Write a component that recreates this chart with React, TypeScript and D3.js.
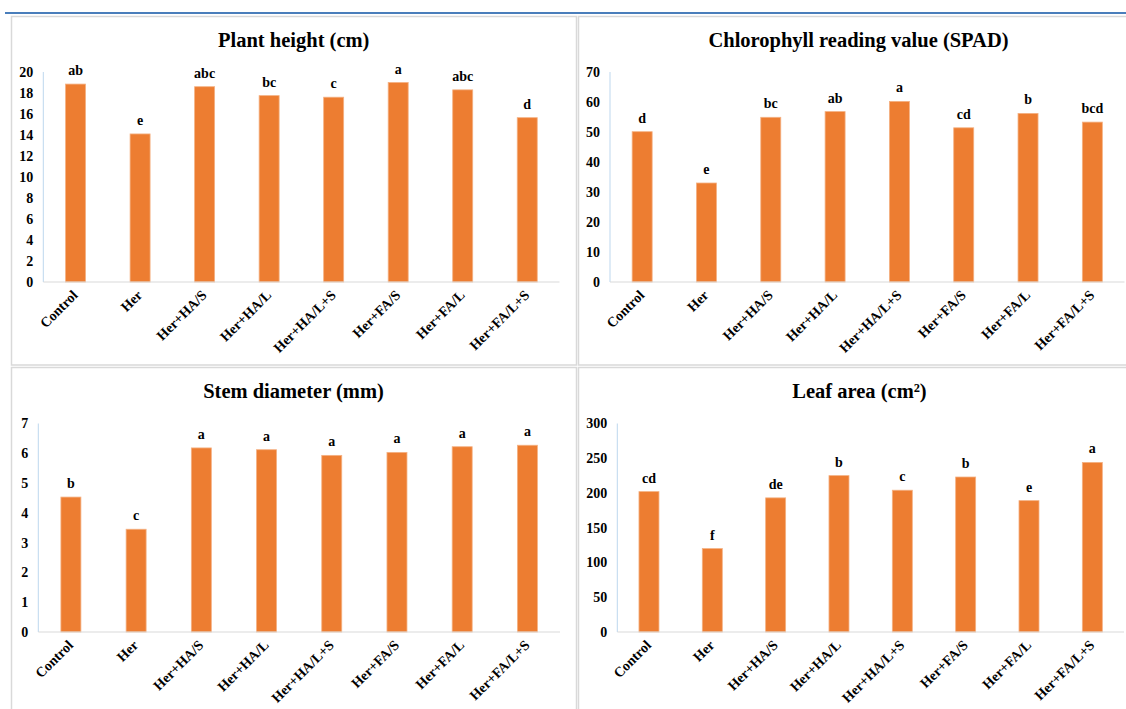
import React from "react";
import * as d3 from "d3";

const categories = ["Control", "Her", "Her+HA/S", "Her+HA/L", "Her+HA/L+S", "Her+FA/S", "Her+FA/L", "Her+FA/L+S"];

const plantHeight = [18.85, 14.1, 18.6, 17.75, 17.6, 19.0, 18.3, 15.65];
const plantHeightLetters = ["ab", "e", "abc", "bc", "c", "a", "abc", "d"];
const plantHeightTicks = [0, 2, 4, 6, 8, 10, 12, 14, 16, 18, 20];

const chlorophyll = [50.1, 33.0, 54.9, 56.8, 60.2, 51.4, 56.2, 53.3];
const chlorophyllLetters = ["d", "e", "bc", "ab", "a", "cd", "b", "bcd"];
const chlorophyllTicks = [0, 10, 20, 30, 40, 50, 60, 70];

const stemDiameter = [4.53, 3.45, 6.18, 6.12, 5.93, 6.03, 6.22, 6.27];
const stemDiameterLetters = ["b", "c", "a", "a", "a", "a", "a", "a"];
const stemDiameterTicks = [0, 1, 2, 3, 4, 5, 6, 7];

const leafArea = [202, 120, 193, 225, 204, 223, 189, 244];
const leafAreaLetters = ["cd", "f", "de", "b", "c", "b", "e", "a"];
const leafAreaTicks = [0, 50, 100, 150, 200, 250, 300];

const titles = ["Plant height (cm)", "Chlorophyll reading value (SPAD)", "Stem diameter (mm)", "Leaf area (cm\u00B2)"];

const panels = [
  { title: titles[0], values: plantHeight, letters: plantHeightLetters, ticks: plantHeightTicks, box: [11, 16, 576, 364.5], x0: 43.3, x1: 559.5, y0: 282, y1: 72, titleX: 293.7, titleY: 47 },
  { title: titles[1], values: chlorophyll, letters: chlorophyllLetters, ticks: chlorophyllTicks, box: [578, 16, 1140, 364.5], x0: 610, x1: 1124.5, y0: 282, y1: 72, titleX: 858.5, titleY: 47 },
  { title: titles[2], values: stemDiameter, letters: stemDiameterLetters, ticks: stemDiameterTicks, box: [11, 367, 576, 720], x0: 38.3, x1: 560, y0: 632, y1: 423.5, titleX: 293.5, titleY: 398 },
  { title: titles[3], values: leafArea, letters: leafAreaLetters, ticks: leafAreaTicks, box: [578, 367, 1140, 720], x0: 617.3, x1: 1124, y0: 632, y1: 423.5, titleX: 859.5, titleY: 398 },
];

const FONT = "'Liberation Serif', 'Times New Roman', serif";
const BAR = "#ED7D31";

function Panel({ p }: { p: any }) {
  const x = d3.scaleBand<string>().domain(categories).range([p.x0, p.x1]).paddingInner(0).paddingOuter(0);
  const maxT = p.ticks[p.ticks.length - 1];
  const y = d3.scaleLinear().domain([0, maxT]).range([p.y0, p.y1]);
  const bw = 20;
  const [bx0, by0, bx1, by1] = p.box;
  return (
    <g>
      <rect x={bx0 + 0.5} y={by0 + 0.5} width={bx1 - bx0} height={by1 - by0} fill="#fff" stroke="#D9D9D9" strokeWidth={1.5} />
      <text x={p.titleX} y={p.titleY} textAnchor="middle" fontFamily={FONT} fontWeight="bold" fontSize={20.5} fill="#000">
        {p.title}
      </text>
      {p.ticks.map((t: number) => (
        <text key={t} x={p.x0 - 10} y={y(t)} dy="0.35em" textAnchor="end" fontFamily={FONT} fontWeight="bold" fontSize={14} fill="#000">
          {t}
        </text>
      ))}
      <line x1={p.x0} x2={p.x0} y1={y(maxT)} y2={p.y0} stroke="#BDD7EE" strokeWidth={1} />
      {categories.map((c, i) => {
        const cx = (x(c) as number) + x.bandwidth() / 2;
        const v = p.values[i];
        return (
          <g key={c}>
            <rect x={cx - bw / 2} y={y(v)} width={bw} height={p.y0 - y(v)} fill={BAR} stroke="#F4B183" strokeWidth={0.8} />
            <text x={cx} y={y(v) - 9} textAnchor="middle" fontFamily={FONT} fontWeight="bold" fontSize={14} fill="#000">
              {p.letters[i]}
            </text>
            <text transform={`translate(${cx + 3},${p.y0 + 14}) rotate(-45)`} textAnchor="end" fontFamily={FONT} fontWeight="bold" fontSize={14} fill="#000">
              {c}
            </text>
          </g>
        );
      })}
      <line x1={p.x0} x2={p.x1} y1={p.y0} y2={p.y0} stroke="#D9D9D9" strokeWidth={1.2} />
    </g>
  );
}

export default function App() {
  return (
    <div style={{ position: "absolute", left: 0, top: 0 }}>
      <svg width={1126} height={709} style={{ display: "block", background: "#fff" }}>
        <rect x={0} y={0} width={1126} height={709} fill="#fff" />
        {panels.map((p, i) => (
          <Panel key={i} p={p} />
        ))}
        <line x1={5} x2={1126} y1={13} y2={13} stroke="#4A7EBB" strokeWidth={2} />
      </svg>
    </div>
  );
}
